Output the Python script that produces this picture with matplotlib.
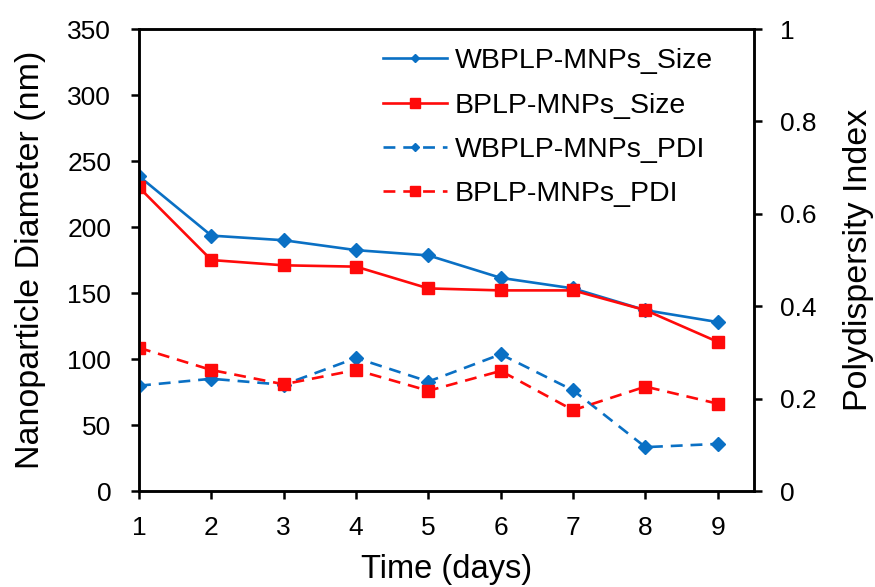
import numpy as np
import matplotlib.pyplot as plt
from matplotlib.lines import Line2D

plt.rcParams['font.family'] = ['Liberation Sans', 'DejaVu Sans']

# data
days = [1, 2, 3, 4, 5, 6, 7, 8, 9]
wbplp_size = [238.5, 193.5, 190, 182.5, 178.5, 161.5, 153.5, 137, 128]
bplp_size = [230, 175, 171, 170, 153.5, 152, 152, 137, 113]
wbplp_pdi = [0.228, 0.243, 0.23, 0.288, 0.237, 0.296, 0.218, 0.095, 0.102]
bplp_pdi = [0.31, 0.262, 0.231, 0.262, 0.217, 0.26, 0.175, 0.226, 0.189]

size_labels = ["WBPLP-MNPs_Size", "BPLP-MNPs_Size"]
pdi_labels = ["WBPLP-MNPs_PDI", "BPLP-MNPs_PDI"]

blue = "#0A70C4"
red = "#FF0A0A"
dash = (0, (4.5, 3))

fig = plt.figure(figsize=(8.75, 5.87), dpi=100)
ax1 = fig.add_axes([0.1589, 0.1635, 0.7028, 0.787])
ax2 = ax1.twinx()

# sizes on left axis
ax1.plot(days, wbplp_size, color=blue, lw=1.9, marker="D", ms=7)
ax1.plot(days, bplp_size, color=red, lw=1.9, marker="s", ms=8)

# PDI on right axis
ax2.plot(days, wbplp_pdi, color=blue, lw=1.9, ls=dash, marker="D", ms=7)
ax2.plot(days, bplp_pdi, color=red, lw=1.9, ls=dash, marker="s", ms=8)

ax1.set_xlim(1, 9.5)
ax1.set_ylim(0, 350)
ax2.set_ylim(0, 1)
ax1.set_xticks(days)
ax1.set_yticks(np.arange(0, 351, 50))
ax2.set_yticks([0, 0.2, 0.4, 0.6, 0.8, 1])
ax2.set_yticklabels(["0", "0.2", "0.4", "0.6", "0.8", "1"])

for ax in (ax1, ax2):
    for s in ax.spines.values():
        s.set_linewidth(1.8)
        s.set_color("black")
    ax.tick_params(direction="out", length=6, width=1.8, labelsize=19)
ax1.tick_params(axis="y", pad=14)
ax1.tick_params(axis="x", pad=12)
ax2.tick_params(axis="y", pad=13)

ax1.set_xlabel("Time (days)", fontsize=23.5, labelpad=10)
ax1.set_ylabel("Nanoparticle Diameter (nm)", fontsize=24.5, labelpad=15)
ax2.set_ylabel("Polydispersity Index", fontsize=24.5, labelpad=19)

# legend proxies with the small markers seen in the legend
handles = [
    Line2D([], [], color=blue, lw=1.9, marker="D", ms=4.5),
    Line2D([], [], color=red, lw=1.9, marker="s", ms=6.5),
    Line2D([], [], color=blue, lw=1.9, ls=dash, marker="D", ms=4.5),
    Line2D([], [], color=red, lw=1.9, ls=dash, marker="s", ms=6.5),
]
ax1.legend(handles=handles, labels=size_labels + pdi_labels, loc="upper left",
           bbox_to_anchor=(0.378, 0.983), frameon=False, fontsize=20.5,
           handlelength=2.25, labelspacing=0.64, handletextpad=0.28, borderaxespad=0)

plt.savefig("out.png", dpi=100)
